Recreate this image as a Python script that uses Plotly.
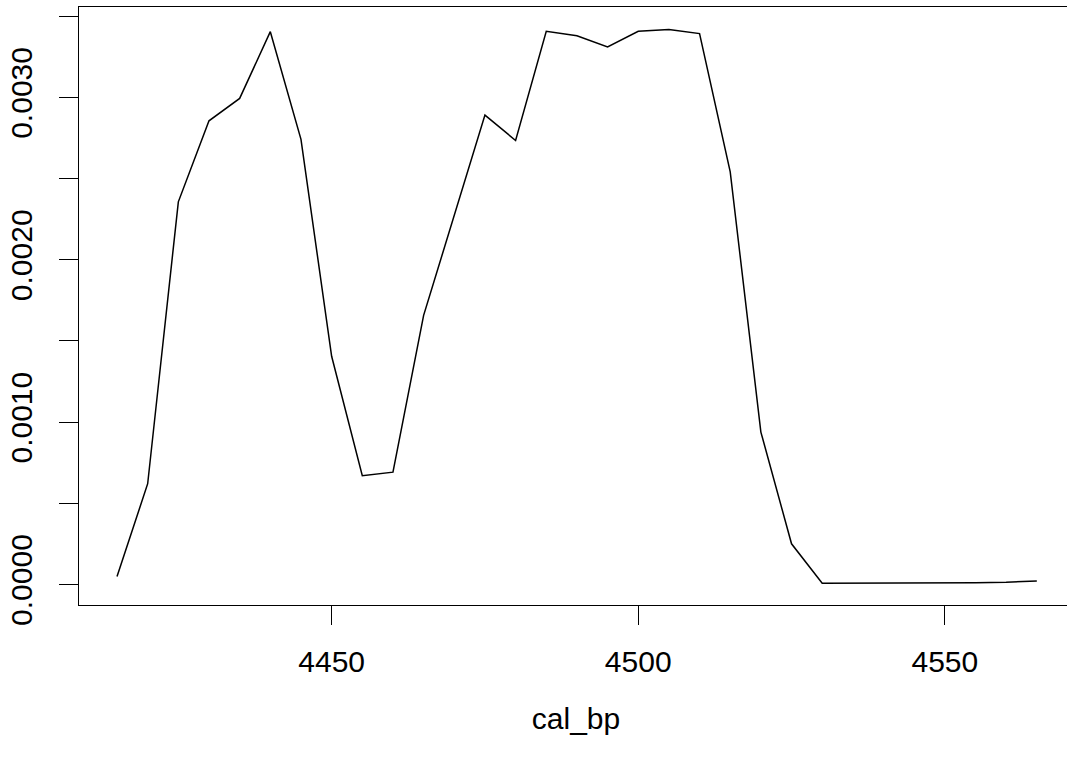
import plotly.graph_objects as go

cal_bp = [4415, 4420, 4425, 4430, 4435, 4440, 4445, 4450, 4455, 4460,
          4465, 4470, 4475, 4480, 4485, 4490, 4495, 4500, 4505, 4510,
          4515, 4520, 4525, 4530, 4535, 4540, 4545, 4550, 4555, 4560, 4565]
density = [0.000049, 0.000621, 0.002357, 0.002856, 0.002994, 0.003405, 0.002742,
           0.001406, 0.000670, 0.000692, 0.001658, 0.002275, 0.002891, 0.002735,
           0.003407, 0.003380, 0.003311, 0.003407, 0.003418, 0.003393, 0.002542,
           0.000939, 0.000251, 0.000008, 0.000008, 0.000009, 0.000009, 0.000010,
           0.000011, 0.000014, 0.000022]

x_tickvals = [4450, 4500, 4550]
y_tickvals = [0.0, 0.001, 0.002, 0.003]

FONT = "Liberation Sans, Arial, Helvetica, sans-serif"
FS = 30

fig = go.Figure()
fig.add_trace(go.Scatter(x=cal_bp, y=density, mode="lines",
                         line=dict(color="black", width=1.5),
                         showlegend=False, hoverinfo="skip"))

# plot region spans 79..1073 px (right border falls just outside the 1067px window, as in the reference)
fig.update_layout(
    width=1080, height=761,
    margin=dict(l=79, r=7, t=7, b=156, pad=0),
    paper_bgcolor="white", plot_bgcolor="white",
    font=dict(family=FONT, size=FS, color="black"),
)

fig.update_xaxes(
    range=[4408.8, 4570.9],
    automargin=False,
    showgrid=False, zeroline=False,
    showline=True, linecolor="black", linewidth=1.3, mirror=True,
    ticks="outside", ticklen=19, tickwidth=1.2, tickcolor="black",
    tickvals=x_tickvals, ticktext=[str(v) for v in x_tickvals],
    tickfont=dict(family=FONT, size=FS, color="black"),
    ticklabelstandoff=11,
    title=dict(text="cal_bp", font=dict(family=FONT, size=FS, color="black"), standoff=30),
)

fig.update_yaxes(
    range=[-0.000126, 0.003557],
    automargin=False,
    showgrid=False, zeroline=False,
    showline=True, linecolor="black", linewidth=1.3, mirror=True,
    ticks="outside", ticklen=19, tickwidth=1.2, tickcolor="black",
    tickvals=y_tickvals, tickformat=".4f",
    tickangle=-90,
    tickfont=dict(family=FONT, size=FS, color="black"),
    ticklabelstandoff=15,
    minor=dict(dtick=0.0005, tick0=0, ticks="outside", ticklen=19, tickwidth=1.2,
               tickcolor="black", showgrid=False),
)

fig.write_html(
    "out.html",
    config={"displayModeBar": False},
    post_script="document.body.style.margin='0';document.body.style.overflow='hidden';",
)
